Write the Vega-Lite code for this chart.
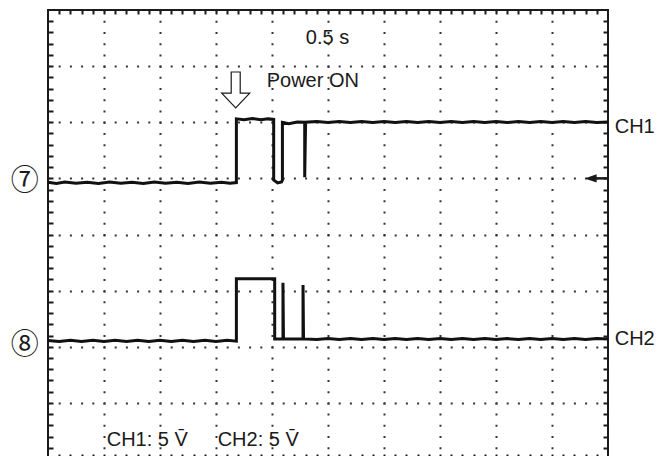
{
  "$schema": "https://vega.github.io/schema/vega-lite/v6.json",
  "width": 560,
  "height": 449,
  "autosize": {"type": "none"},
  "padding": {"left": 48, "top": 10, "right": 50, "bottom": -3},
  "background": "white",
  "config": {
    "view": {"stroke": "#1a1a1a", "strokeWidth": 2},
    "text": {"font": "Liberation Sans", "fontSize": 20, "color": "#1a1a1a"}
  },
  "resolve": {"axis": {"x": "independent", "y": "independent"}},
  "layer": [
    {
      "data": {"values": [
        {"i":0,"x":0,"y":4.93},{"i":1,"x":0.15,"y":4.91},{"i":2,"x":0.3,"y":4.935},{"i":3,"x":0.5,"y":4.915},
        {"i":4,"x":0.7,"y":4.93},{"i":5,"x":0.9,"y":4.91},{"i":6,"x":1.1,"y":4.935},{"i":7,"x":1.3,"y":4.915},
        {"i":8,"x":1.5,"y":4.93},{"i":9,"x":1.7,"y":4.91},{"i":10,"x":1.9,"y":4.935},{"i":11,"x":2.1,"y":4.915},
        {"i":12,"x":2.3,"y":4.93},{"i":13,"x":2.5,"y":4.91},{"i":14,"x":2.7,"y":4.935},{"i":15,"x":2.9,"y":4.915},
        {"i":16,"x":3.1,"y":4.93},{"i":17,"x":3.25,"y":4.915},{"i":18,"x":3.364,"y":4.925},{"i":19,"x":3.364,"y":6.06},
        {"i":20,"x":3.5,"y":6.045},{"i":21,"x":3.65,"y":6.065},{"i":22,"x":3.8,"y":6.045},{"i":23,"x":3.93,"y":6.06},
        {"i":24,"x":4.03,"y":6.05},{"i":25,"x":4.03,"y":4.97},{"i":26,"x":4.1,"y":4.92},{"i":27,"x":4.17,"y":4.935},
        {"i":28,"x":4.186,"y":4.97},{"i":29,"x":4.186,"y":6.0},{"i":30,"x":4.3,"y":5.975},{"i":31,"x":4.45,"y":6.005},
        {"i":32,"x":4.584,"y":6.0},{"i":33,"x":4.584,"y":5.02},{"i":34,"x":4.6,"y":6.0},{"i":35,"x":4.8,"y":6.015},
        {"i":36,"x":5.0,"y":5.995},{"i":37,"x":5.2,"y":6.015},{"i":38,"x":5.4,"y":5.995},{"i":39,"x":5.6,"y":6.015},
        {"i":40,"x":5.8,"y":5.995},{"i":41,"x":6.0,"y":6.015},{"i":42,"x":6.2,"y":5.995},{"i":43,"x":6.4,"y":6.015},
        {"i":44,"x":6.6,"y":5.995},{"i":45,"x":6.8,"y":6.015},{"i":46,"x":7.0,"y":5.995},{"i":47,"x":7.2,"y":6.015},
        {"i":48,"x":7.4,"y":5.995},{"i":49,"x":7.6,"y":6.015},{"i":50,"x":7.8,"y":5.995},{"i":51,"x":8.0,"y":6.015},
        {"i":52,"x":8.2,"y":5.995},{"i":53,"x":8.4,"y":6.015},{"i":54,"x":8.6,"y":5.995},{"i":55,"x":8.8,"y":6.015},
        {"i":56,"x":9.0,"y":5.995},{"i":57,"x":9.2,"y":6.015},{"i":58,"x":9.4,"y":5.995},{"i":59,"x":9.6,"y":6.015},
        {"i":60,"x":9.8,"y":5.995},{"i":61,"x":10,"y":6.005}
      ]},
      "mark": {"type": "line", "color": "#111111", "strokeWidth": 3, "clip": false},
      "encoding": {
        "x": {"field": "x", "type": "quantitative", "scale": {"domain": [0, 10], "nice": false, "zero": false},
          "axis": {"orient": "bottom", "title": null, "labels": false, "offset": -5,
            "values": [0.2,0.4,0.6,0.8,1,1.2,1.4,1.6,1.8,2,2.2,2.4,2.6,2.8,3,3.2,3.4,3.6,3.8,4,4.2,4.4,4.6,4.8,5,5.2,5.4,5.6,5.8,6,6.2,6.4,6.6,6.8,7,7.2,7.4,7.6,7.8,8,8.2,8.4,8.6,8.8,9,9.2,9.4,9.6,9.8],
            "domain": false,
            "ticks": true, "tickColor": "#1a1a1a", "tickWidth": 2, "tickSize": 5,
            "grid": true, "gridColor": "#333333", "gridWidth": 2, "gridDash": [2, 9.225], "gridDashOffset": 1,
            "gridOpacity": {"condition": {"test": "datum.value % 1 === 0", "value": 1}, "value": 0}
          }},
        "y": {"field": "y", "type": "quantitative", "scale": {"domain": [0, 8], "nice": false, "zero": false},
          "axis": {"orient": "left", "title": null, "labels": false, "offset": -5,
            "values": [0.2,0.4,0.6,0.8,1,1.2,1.4,1.6,1.8,2,2.2,2.4,2.6,2.8,3,3.2,3.4,3.6,3.8,4,4.2,4.4,4.6,4.8,5,5.2,5.4,5.6,5.8,6,6.2,6.4,6.6,6.8,7,7.2,7.4,7.6,7.8],
            "domain": false,
            "ticks": true, "tickColor": "#1a1a1a", "tickWidth": 2, "tickSize": 5,
            "grid": true, "gridColor": "#333333", "gridWidth": 2, "gridDash": [2, 9.2], "gridDashOffset": 1,
            "gridOpacity": {"condition": {"test": "datum.value % 1 === 0", "value": 1}, "value": 0}
          }},
        "order": {"field": "i", "type": "quantitative"}
      }
    },
    {
      "data": {"values": [
        {"i":0,"x":0,"y":2.11},{"i":1,"x":0.2,"y":2.095},{"i":2,"x":0.4,"y":2.115},{"i":3,"x":0.6,"y":2.095},
        {"i":4,"x":0.8,"y":2.115},{"i":5,"x":1.0,"y":2.095},{"i":6,"x":1.2,"y":2.115},{"i":7,"x":1.4,"y":2.095},
        {"i":8,"x":1.6,"y":2.115},{"i":9,"x":1.8,"y":2.095},{"i":10,"x":2.0,"y":2.115},{"i":11,"x":2.2,"y":2.095},
        {"i":12,"x":2.4,"y":2.115},{"i":13,"x":2.6,"y":2.095},{"i":14,"x":2.8,"y":2.115},{"i":15,"x":3.0,"y":2.095},
        {"i":16,"x":3.2,"y":2.115},{"i":17,"x":3.364,"y":2.1},{"i":18,"x":3.364,"y":3.21},{"i":19,"x":4.048,"y":3.21},
        {"i":20,"x":4.048,"y":2.14},{"i":21,"x":4.196,"y":2.14},{"i":22,"x":4.196,"y":3.14},{"i":23,"x":4.205,"y":2.14},
        {"i":24,"x":4.554,"y":2.14},{"i":25,"x":4.554,"y":3.1},{"i":26,"x":4.563,"y":2.14},{"i":27,"x":4.8,"y":2.13},
        {"i":28,"x":5.0,"y":2.145},{"i":29,"x":5.2,"y":2.13},{"i":30,"x":5.4,"y":2.145},{"i":31,"x":5.6,"y":2.13},
        {"i":32,"x":5.8,"y":2.145},{"i":33,"x":6.0,"y":2.13},{"i":34,"x":6.2,"y":2.145},{"i":35,"x":6.4,"y":2.13},
        {"i":36,"x":6.6,"y":2.145},{"i":37,"x":6.8,"y":2.13},{"i":38,"x":7.0,"y":2.145},{"i":39,"x":7.2,"y":2.13},
        {"i":40,"x":7.4,"y":2.145},{"i":41,"x":7.6,"y":2.13},{"i":42,"x":7.8,"y":2.145},{"i":43,"x":8.0,"y":2.13},
        {"i":44,"x":8.2,"y":2.145},{"i":45,"x":8.4,"y":2.13},{"i":46,"x":8.6,"y":2.145},{"i":47,"x":8.8,"y":2.13},
        {"i":48,"x":9.0,"y":2.145},{"i":49,"x":9.2,"y":2.13},{"i":50,"x":9.4,"y":2.145},{"i":51,"x":9.6,"y":2.13},
        {"i":52,"x":9.8,"y":2.145},{"i":53,"x":10,"y":2.14}
      ]},
      "mark": {"type": "line", "color": "#111111", "strokeWidth": 3, "clip": false},
      "encoding": {
        "x": {"field": "x", "type": "quantitative", "scale": {"domain": [0, 10], "nice": false, "zero": false},
          "axis": {"orient": "top", "title": null, "labels": false, "offset": -4,
            "values": [0.2,0.4,0.6,0.8,1,1.2,1.4,1.6,1.8,2,2.2,2.4,2.6,2.8,3,3.2,3.4,3.6,3.8,4,4.2,4.4,4.6,4.8,5,5.2,5.4,5.6,5.8,6,6.2,6.4,6.6,6.8,7,7.2,7.4,7.6,7.8,8,8.2,8.4,8.6,8.8,9,9.2,9.4,9.6,9.8],
            "domain": false,
            "ticks": true, "tickColor": "#1a1a1a", "tickWidth": 2, "tickSize": 4, "grid": false
          }},
        "y": {"field": "y", "type": "quantitative", "scale": {"domain": [0, 8], "nice": false, "zero": false},
          "axis": {"orient": "right", "title": null, "labels": false, "offset": -5,
            "values": [0.2,0.4,0.6,0.8,1,1.2,1.4,1.6,1.8,2,2.2,2.4,2.6,2.8,3,3.2,3.4,3.6,3.8,4,4.2,4.4,4.6,4.8,5,5.2,5.4,5.6,5.8,6,6.2,6.4,6.6,6.8,7,7.2,7.4,7.6,7.8],
            "domain": false,
            "ticks": true, "tickColor": "#1a1a1a", "tickWidth": 2, "tickSize": 5, "grid": false
          }},
        "order": {"field": "i", "type": "quantitative"}
      }
    },
    {
      "data": {"values": [{"label": "0.5 s"}]},
      "mark": {"type": "text", "align": "center", "baseline": "middle"},
      "encoding": {
        "x": {"datum": 4.99, "type": "quantitative", "axis": null, "scale": {"domain": [0, 10], "nice": false, "zero": false}},
        "y": {"datum": 7.51, "type": "quantitative", "axis": null, "scale": {"domain": [0, 8], "nice": false, "zero": false}},
        "text": {"field": "label"}
      }
    },
    {
      "data": {"values": [{"label": "Power ON"}]},
      "mark": {"type": "text", "align": "left", "baseline": "middle"},
      "encoding": {
        "x": {"datum": 3.905, "type": "quantitative", "axis": null, "scale": {"domain": [0, 10], "nice": false, "zero": false}},
        "y": {"datum": 6.735, "type": "quantitative", "axis": null, "scale": {"domain": [0, 8], "nice": false, "zero": false}},
        "text": {"field": "label"}
      }
    },
    {
      "data": {"values": [{"label": "CH1"}]},
      "mark": {"type": "text", "align": "left", "baseline": "middle"},
      "encoding": {
        "x": {"datum": 10.12, "type": "quantitative", "axis": null, "scale": {"domain": [0, 10], "nice": false, "zero": false}},
        "y": {"datum": 5.915, "type": "quantitative", "axis": null, "scale": {"domain": [0, 8], "nice": false, "zero": false}},
        "text": {"field": "label"}
      }
    },
    {
      "data": {"values": [{"label": "CH2"}]},
      "mark": {"type": "text", "align": "left", "baseline": "middle"},
      "encoding": {
        "x": {"datum": 10.12, "type": "quantitative", "axis": null, "scale": {"domain": [0, 10], "nice": false, "zero": false}},
        "y": {"datum": 2.138, "type": "quantitative", "axis": null, "scale": {"domain": [0, 8], "nice": false, "zero": false}},
        "text": {"field": "label"}
      }
    },
    {
      "data": {"values": [{"label": "CH1: 5 V\u0304"}]},
      "mark": {"type": "text", "align": "left", "baseline": "middle"},
      "encoding": {
        "x": {"datum": 1.048, "type": "quantitative", "axis": null, "scale": {"domain": [0, 10], "nice": false, "zero": false}},
        "y": {"datum": 0.33, "type": "quantitative", "axis": null, "scale": {"domain": [0, 8], "nice": false, "zero": false}},
        "text": {"field": "label"}
      }
    },
    {
      "data": {"values": [{"label": "CH2: 5 V\u0304"}]},
      "mark": {"type": "text", "align": "left", "baseline": "middle"},
      "encoding": {
        "x": {"datum": 3.03, "type": "quantitative", "axis": null, "scale": {"domain": [0, 10], "nice": false, "zero": false}},
        "y": {"datum": 0.33, "type": "quantitative", "axis": null, "scale": {"domain": [0, 8], "nice": false, "zero": false}},
        "text": {"field": "label"}
      }
    },
    {
      "data": {"values": [{"label": "⑦"}]},
      "mark": {"type": "text", "align": "center", "baseline": "middle", "font": "Noto Sans CJK JP", "fontSize": 28},
      "encoding": {
        "x": {"datum": -0.416, "type": "quantitative", "axis": null, "scale": {"domain": [0, 10], "nice": false, "zero": false}},
        "y": {"datum": 4.93, "type": "quantitative", "axis": null, "scale": {"domain": [0, 8], "nice": false, "zero": false}},
        "text": {"field": "label"}
      }
    },
    {
      "data": {"values": [{"label": "⑧"}]},
      "mark": {"type": "text", "align": "center", "baseline": "middle", "font": "Noto Sans CJK JP", "fontSize": 28},
      "encoding": {
        "x": {"datum": -0.416, "type": "quantitative", "axis": null, "scale": {"domain": [0, 10], "nice": false, "zero": false}},
        "y": {"datum": 2.01, "type": "quantitative", "axis": null, "scale": {"domain": [0, 8], "nice": false, "zero": false}},
        "text": {"field": "label"}
      }
    },
    {
      "data": {"values": [{"name": "power arrow"}]},
      "mark": {"type": "point", "shape": "M-0.25,-1L0.25,-1L0.25,0.17L0.78,0.17L0,1L-0.78,0.17L-0.25,0.17Z", "size": 1296, "filled": true, "fill": "white", "stroke": "#1a1a1a", "strokeWidth": 1.2, "opacity": 1},
      "encoding": {
        "x": {"datum": 3.352, "type": "quantitative", "axis": null, "scale": {"domain": [0, 10], "nice": false, "zero": false}},
        "y": {"datum": 6.575, "type": "quantitative", "axis": null, "scale": {"domain": [0, 8], "nice": false, "zero": false}}
      }
    },
    {
      "data": {"values": [{"name": "trigger"}]},
      "mark": {"type": "rule", "color": "#1a1a1a", "strokeWidth": 2.5},
      "encoding": {
        "x": {"datum": 9.75, "type": "quantitative", "axis": null, "scale": {"domain": [0, 10], "nice": false, "zero": false}},
        "x2": {"datum": 10},
        "y": {"datum": 5.0, "type": "quantitative", "axis": null, "scale": {"domain": [0, 8], "nice": false, "zero": false}}
      }
    },
    {
      "data": {"values": [{"name": "trigger head"}]},
      "mark": {"type": "point", "shape": "M-1,0L1,-0.7L1,0.7Z", "size": 144, "filled": true, "color": "#1a1a1a", "opacity": 1},
      "encoding": {
        "x": {"datum": 9.69, "type": "quantitative", "axis": null, "scale": {"domain": [0, 10], "nice": false, "zero": false}},
        "y": {"datum": 5.0, "type": "quantitative", "axis": null, "scale": {"domain": [0, 8], "nice": false, "zero": false}}
      }
    }
  ]
}
